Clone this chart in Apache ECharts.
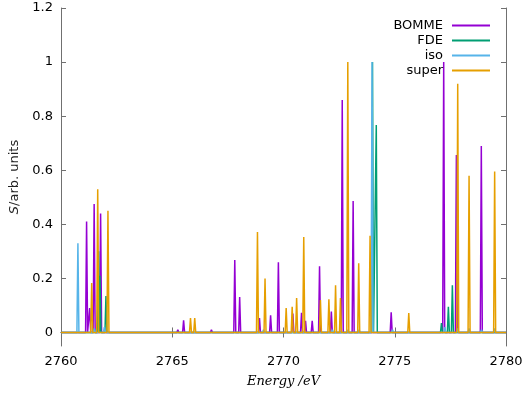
<!DOCTYPE html>
<html>
<head>
<meta charset="utf-8">
<script src="https://cdn.jsdelivr.net/npm/echarts@6/dist/echarts.min.js"></script>
<style>
  html, body { margin: 0; padding: 0; background: #fff; }
  #chart { width: 526px; height: 396px; }
</style>
</head>
<body>
<div id="chart"></div>
<script>
// peak positions (eV) and heights
const bommeE = [2761.15, 2761.29, 2761.49, 2761.78, 2765.25, 2765.51, 2766.76, 2767.81, 2768.03, 2768.92, 2769.42, 2769.77, 2770.42, 2770.81, 2770.99, 2771.29, 2771.62, 2772.15, 2772.64, 2773.13, 2774.84, 2777.20, 2777.77, 2778.89]
const bommeH = [0.41, 0.09, 0.475, 0.44, 0.01, 0.045, 0.01, 0.268, 0.131, 0.053, 0.064, 0.26, 0.07, 0.073, 0.043, 0.043, 0.245, 0.077, 0.86, 0.486, 0.075, 1.0, 0.656, 0.69]

const fdeE = [2761.69, 2761.75, 2762.02, 2774.00, 2774.17, 2777.10, 2777.41, 2777.59]
const fdeH = [0.30, 0.21, 0.135, 1.0, 0.767, 0.035, 0.095, 0.175]

const isoE = [2760.76, 2761.50, 2761.95, 2769.10, 2772.20, 2772.90, 2773.40, 2773.98, 2774.90, 2777.25, 2777.83, 2778.34, 2778.90, 2779.49]
const isoH = [0.33, 0.015, 0.02, 0.01, 0.01, 0.01, 0.01, 1.0, 0.01, 0.02, 0.015, 0.015, 0.01, 0.015]

const superE = [2761.38, 2761.65, 2762.11, 2765.82, 2766.01, 2768.83, 2769.17, 2770.12, 2770.39, 2770.59, 2770.91, 2771.66, 2772.04, 2772.34, 2772.56, 2772.89, 2773.38, 2773.89, 2775.63, 2777.83, 2778.34, 2779.49]
const superH = [0.183, 0.53, 0.45, 0.053, 0.053, 0.372, 0.2, 0.09, 0.095, 0.127, 0.353, 0.12, 0.123, 0.175, 0.127, 1.0, 0.256, 0.358, 0.072, 0.92, 0.58, 0.595]

const xTicks = [2760, 2765, 2770, 2775, 2780]
const yTicks = [0, 0.2, 0.4, 0.6, 0.8, 1, 1.2]

const seriesNames = ['BOMME', 'FDE', 'iso', 'super']
const seriesColors = ['#9400d3', '#009e73', '#56b4e9', '#e69f00']

// narrow stick shape for each peak on a zero baseline
const halfWidth = 0.045
const toLine = (pos, h) => {
  const pts = [[xTicks[0], 0]]
  pos.forEach((e, i) => {
    pts.push([e - halfWidth, 0], [e, h[i]], [e + halfWidth, 0])
  })
  pts.push([xTicks[xTicks.length - 1], 0])
  return pts
}

const lines = [toLine(bommeE, bommeH), toLine(fdeE, fdeH), toLine(isoE, isoH), toLine(superE, superH)]

const font = 'DejaVu Sans'
const borderColor = '#707070'

const chart = echarts.init(document.getElementById('chart'))

const xBase = {
  type: 'value',
  min: 2760,
  max: 2780,
  interval: 5,
  axisLine: { show: true, lineStyle: { color: borderColor } },
  axisTick: { show: true, inside: true, length: 5, lineStyle: { color: borderColor } },
  splitLine: { show: false }
}
const yBase = {
  type: 'value',
  min: -0.05,
  max: 1.2,
  axisLine: { show: true, lineStyle: { color: borderColor } },
  axisTick: { show: true, inside: true, length: 5, customValues: yTicks, lineStyle: { color: borderColor } },
  splitLine: { show: false }
}

const option = {
  animation: false,
  backgroundColor: '#fff',
  grid: { left: 60, right: 20, top: 8, bottom: 50 },
  legend: seriesNames.map((name, i) => ({
    data: [name],
    right: 31,
    top: 14 + i * 15,
    align: 'right',
    icon: 'rect',
    itemWidth: 38,
    itemHeight: 2,
    textStyle: { fontFamily: font, fontSize: 13, color: '#000', padding: [0, 4, 0, 0] },
    selectedMode: false
  })),
  xAxis: [
    Object.assign({}, xBase, {
      position: 'bottom',
      axisLabel: { fontFamily: font, fontSize: 13, color: '#000', margin: 9, formatter: v => String(v) },
      name: 'Energy /eV',
      nameLocation: 'middle',
      nameGap: 29,
      nameTextStyle: { fontFamily: 'DejaVu Serif', fontStyle: 'italic', fontSize: 13, color: '#000' }
    }),
    Object.assign({}, xBase, { position: 'top', axisLabel: { show: false } })
  ],
  yAxis: [
    Object.assign({}, yBase, {
      position: 'left',
      axisLabel: { fontFamily: font, fontSize: 13, color: '#000', margin: 8, customValues: yTicks },
      name: '{i|S}/arb. units',
      nameLocation: 'middle',
      nameRotate: 90,
      nameGap: 40,
      nameTextStyle: {
        fontFamily: font,
        fontSize: 13,
        color: '#222',
        rich: { i: { fontFamily: font, fontStyle: 'italic', fontSize: 13, color: '#222' } }
      }
    }),
    Object.assign({}, yBase, { position: 'right', axisLabel: { show: false } })
  ],
  series: seriesNames.map((name, i) => ({
    name: name,
    type: 'line',
    data: lines[i],
    showSymbol: false,
    symbol: 'none',
    color: seriesColors[i],
    lineStyle: { color: seriesColors[i], width: 1.5 }
  }))
}

chart.setOption(option)
</script>
</body>
</html>
